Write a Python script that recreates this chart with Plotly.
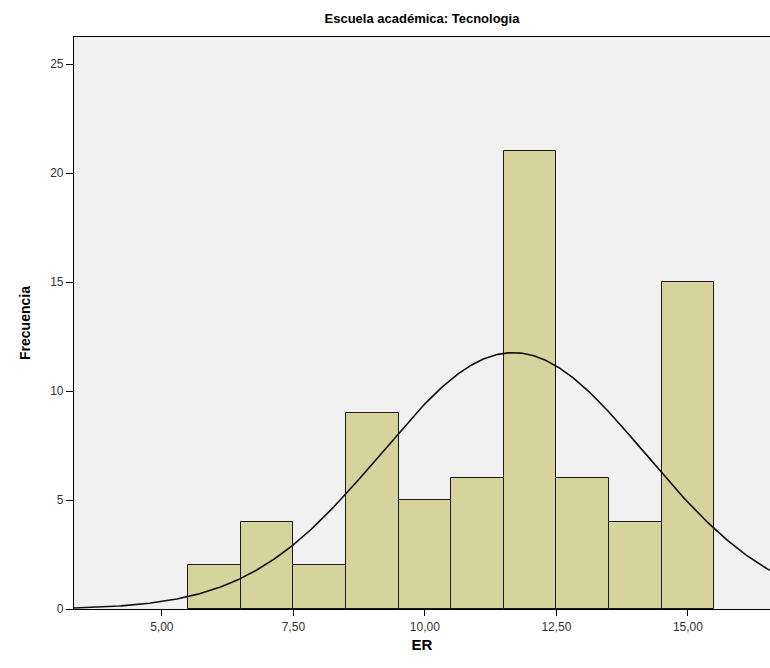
import numpy as np
import plotly.graph_objects as go

# Histogram of ER for the Tecnologia school (bins of width 1)
bin_centers = [6, 7, 8, 9, 10, 11, 12, 13, 14, 15]
counts = [2, 4, 2, 9, 5, 6, 21, 6, 4, 15]
bin_width = 1.0

x_ticks = [5.0, 7.5, 10.0, 12.5, 15.0]
y_ticks = [0, 5, 10, 15, 20, 25]

# Normal curve fitted to the binned data
c = np.array(bin_centers, dtype=float)
n = np.array(counts, dtype=float)
total = n.sum()
mean = (c * n).sum() / total
sd = np.sqrt(((c - mean) ** 2 * n).sum() / (total - 1))

x_min, x_max = 3.33, 16.56
xs = np.linspace(x_min, x_max, 400)
ys = total * bin_width / (sd * np.sqrt(2 * np.pi)) * np.exp(-0.5 * ((xs - mean) / sd) ** 2)

fig = go.Figure()
fig.add_trace(go.Bar(
    x=bin_centers, y=counts, width=bin_width,
    marker=dict(color="#d6d39c", line=dict(color="#1a1a1a", width=1)),
    hoverinfo="x+y",
))
fig.add_trace(go.Scatter(
    x=xs, y=ys, mode="lines",
    line=dict(color="#111111", width=1.6),
    hoverinfo="skip",
))

fig.update_layout(
    width=770, height=668,
    margin=dict(l=74, r=0, t=37, b=59),
    paper_bgcolor="white",
    plot_bgcolor="#f1f1f1",
    showlegend=False,
    bargap=0,
    separators=",.",
    font=dict(family="Arial, Liberation Sans, sans-serif", color="#222222"),
    title=dict(
        text="<b>Escuela académica: Tecnologia</b>",
        x=0.548, xanchor="center", y=0.973, yanchor="middle",
        font=dict(size=13, color="#000000"),
    ),
)
fig.update_xaxes(
    range=[x_min, x_max],
    tickvals=x_ticks, tickformat=".2f",
    ticks="outside", ticklen=6, tickcolor="#000000",
    showline=True, linecolor="#000000", linewidth=1.2, mirror=True,
    showgrid=False, zeroline=False,
    tickfont=dict(size=12, color="#333333"),
    title=dict(text="<b>ER</b>", font=dict(size=15, color="#000000"), standoff=6),
)
fig.update_yaxes(
    range=[0, 26.24],
    tickvals=y_ticks,
    ticks="outside", ticklen=7, tickcolor="#000000",
    showline=True, linecolor="#000000", linewidth=1.2,
    showgrid=False, zeroline=False,
    tickfont=dict(size=12, color="#333333"),
    title=dict(text="<b>Frecuencia</b>", font=dict(size=14, color="#000000"), standoff=16),
)

fig.write_html("out.html")
